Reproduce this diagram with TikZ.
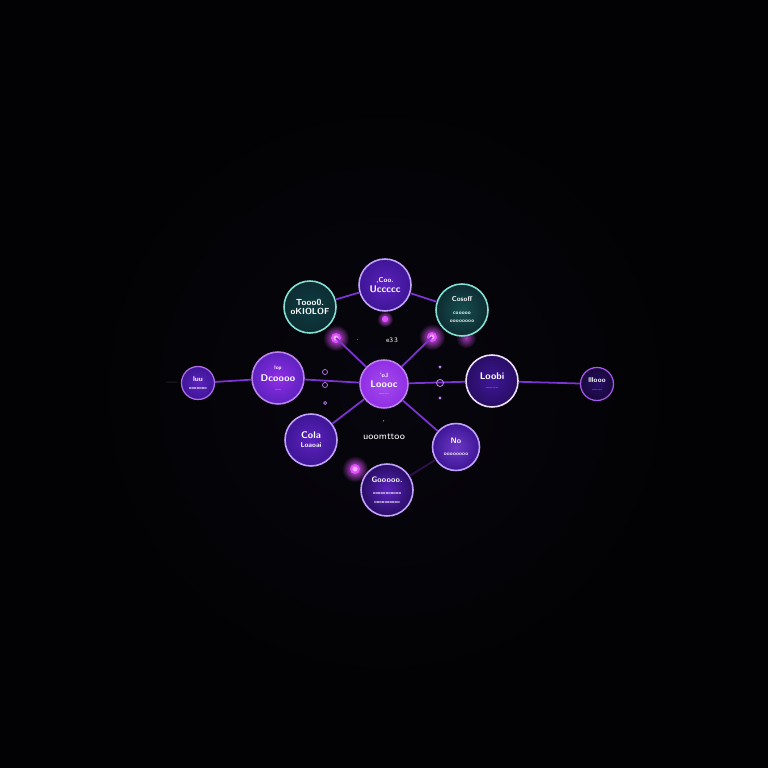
\documentclass[tikz,border=0pt]{standalone}
\usepackage{tikz}
\usetikzlibrary{shapes,arrows}

\begin{document}
\begin{tikzpicture}[x=0.2mm,y=-0.2mm,
  bubble/.style={circle,draw=white,line width=0.9pt,text=white,inner sep=0pt,
    minimum size=10.4mm,align=center,font=\sffamily\bfseries\fontsize{5.5}{6}\selectfont},
  small bubble/.style={bubble,minimum size=6.6mm,line width=0.7pt},
  tinytext/.style={font=\sffamily\fontsize{4}{4.5}\selectfont},
  link/.style={draw=linkColor,line width=1pt}]
\definecolor{bgOuter}{RGB}{2,2,4}
\definecolor{bgInner}{RGB}{8,6,14}
\definecolor{linkColor}{RGB}{125,50,210}
\definecolor{glowColor}{RGB}{225,80,255}
\definecolor{glowCore}{RGB}{245,170,255}
\definecolor{tealEdge}{RGB}{130,225,210}
\definecolor{lavEdge}{RGB}{196,160,255}
\definecolor{purpBright}{RGB}{145,45,230}
\definecolor{purpMid}{RGB}{92,34,190}
\definecolor{purpDeep}{RGB}{62,22,150}
\definecolor{purpDark}{RGB}{40,14,100}
\definecolor{tealDark}{RGB}{14,44,50}
\definecolor{tealMid}{RGB}{22,78,78}
% background
\fill[bgOuter] (0,0) rectangle (768,768);
\shade[inner color=bgInner,outer color=bgOuter] (384,392) circle (300);
% glow points
\coordinate (gUL) at (336,338);
\coordinate (gUR) at (432,337);
\coordinate (gT) at (385,319);
\coordinate (gB) at (355,469);
\foreach \p in {gUL,gUR,gB}{
  \shade[inner color=glowColor,outer color=bgInner] (\p) circle (13);
  \fill[glowColor] (\p) circle (5);
  \fill[glowCore] (\p) circle (2.5);
}
\shade[inner color=glowColor,outer color=bgInner] (gT) circle (8);
\fill[glowColor] (gT) circle (3);
\shade[inner color=glowColor!70!black,outer color=bgInner] (466,338) circle (10);
% bubbles
\node[bubble,inner color=purpBright!85!white,outer color=purpBright,draw=purpBright!60!white,minimum size=9.6mm] (ctr) at (384,384) {\fontsize{3.5}{4}\selectfont 'oJ\\ Loooc\\[-2pt]\fontsize{2}{2}\selectfont .........};
\node[bubble,inner color=purpMid,outer color=purpDeep,draw=lavEdge] (top) at (385,285) {\fontsize{4}{4}\selectfont ,Coo.\\ Uccccc};
\node[bubble,inner color=tealDark!80!teal,outer color=tealDark,draw=tealEdge,font=\sffamily\bfseries\fontsize{5}{5.5}\selectfont] (tl) at (310,307) {Tooo0.\\ oKIOLOF};
\node[bubble,inner color=tealMid,outer color=tealDark,draw=tealEdge] (tr) at (462,310) {\fontsize{4}{4}\selectfont Cosoff\\[1pt]\fontsize{3}{3}\selectfont cooooo\\[-1pt]\fontsize{3}{3}\selectfont oooooooo};
\node[bubble,inner color=purpBright,outer color=purpMid,draw=purpBright!60!white] (lft) at (278,378) {\fontsize{3}{3}\selectfont lop\\[1pt] Dcoooo\\[-1pt]\fontsize{2}{2}\selectfont ......};
\node[small bubble,inner color=purpMid,outer color=purpDeep,draw=purpBright!70!white] (flft) at (198,383) {\fontsize{4}{4}\selectfont luu\\[-1pt]\fontsize{2.5}{2.5}\selectfont ooooooo};
\node[bubble,inner color=purpDeep,outer color=purpDark,draw=white!85!purpBright] (rgt) at (492,381) {Loobi\\[-1pt]\fontsize{2}{2}\selectfont ...........};
\node[small bubble,inner color=purpDark,outer color=purpDark!60!black,draw=purpBright!80!white] (frgt) at (597,384) {\fontsize{4}{4}\selectfont lllooo\\[-1pt]\fontsize{2}{2}\selectfont .........};
\node[bubble,inner color=purpMid,outer color=purpDeep,draw=lavEdge] (bl) at (311,440) {Cola\\[-1pt]\fontsize{4}{4}\selectfont Loaoai};
\node[bubble,inner color=purpMid!90!white,outer color=purpDeep,draw=lavEdge,minimum size=9.4mm] (br) at (456,447) {\fontsize{4.5}{5}\selectfont No\\[1pt]\fontsize{3}{3}\selectfont oooooooo};
\node[bubble,inner color=purpMid,outer color=purpDark,draw=lavEdge] (bot) at (387,490) {\fontsize{4.5}{5}\selectfont Gooooo.\\[1pt]\fontsize{2.5}{2.5}\selectfont ooooooooooo\\[-1pt]\fontsize{2.5}{2.5}\selectfont oooooooooo};
% connectors
\draw[link] (flft) -- (lft);
\draw[link] (lft) -- (ctr);
\draw[link] (ctr) -- (rgt);
\draw[link] (rgt) -- (frgt);
\draw[link] (ctr) -- (gUL);
\draw[link] (ctr) -- (gUR);
\draw[link] (ctr) -- (bl);
\draw[link] (ctr) -- (br);
\draw[link] (top) -- (tl);
\draw[link] (top) -- (tr);
\draw[link,draw=linkColor!35!black] (bot) -- (br);
% loose marks and captions
\node[tinytext,text=white] (cap1) at (392,340) {e3\,3};
\node[tinytext,text=white] (dot1) at (358,340) {.};
\node[text=white,font=\sffamily\fontsize{5.5}{5.5}\selectfont] (cap2) at (384,437) {uoomttoo};
\node[tinytext,text=white] (dot2) at (384,423) {'};
\node[tinytext,text=gray] (cap3) at (172,383) {\fontsize{2}{2}\selectfont ---------};
\draw[purpBright!60!white,line width=0.4pt] (325,372) circle (2.5) (325,385) circle (2.5) (325,403) circle (1.5);
\draw[purpBright!60!white,line width=0.5pt] (440,383) circle (3.5) (440,367) circle (1) (440,398) circle (1);
\end{tikzpicture}
\end{document}
